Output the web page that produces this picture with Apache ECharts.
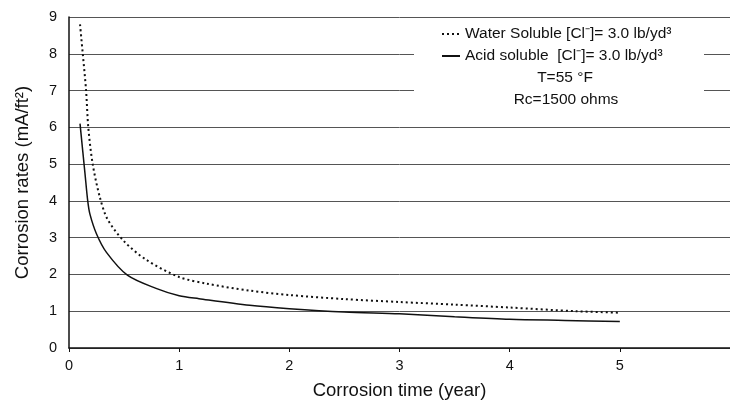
<!DOCTYPE html>
<html>
<head>
<meta charset="utf-8">
<script src="https://cdn.jsdelivr.net/npm/echarts@6/dist/echarts.min.js"></script>
<style>
  html, body { margin: 0; padding: 0; background: #fff; }
  #chart { width: 730px; height: 410px; }
</style>
</head>
<body>
<div id="chart"></div>
<script>
// values: [time (year), corrosion rate (mA/ft2)]
const waterSoluble = [
    [0.1, 8.8], [0.125, 8.0], [0.155, 7.0], [0.175, 6.0], [0.215, 5.0],
    [0.28, 4.1], [0.35, 3.5], [0.5, 2.9], [0.7, 2.4], [1.0, 1.93],
    [1.25, 1.75], [1.64, 1.56], [2.0, 1.44], [2.5, 1.33], [3.0, 1.25],
    [3.5, 1.18], [4.0, 1.1], [4.6, 1.0], [5.0, 0.96]
];
const acidSoluble = [
    [0.1, 6.1], [0.145, 4.75], [0.17, 4.0], [0.19, 3.64], [0.25, 3.1],
    [0.34, 2.6], [0.53, 1.98], [0.79, 1.62], [1.0, 1.42], [1.18, 1.34],
    [1.64, 1.16], [2.0, 1.07], [2.5, 0.98], [3.0, 0.93], [3.5, 0.85],
    [4.0, 0.78], [4.5, 0.75], [5.0, 0.72]
];
const seriesNames = [
    'Water Soluble [Cl\u207B]= 3.0 lb/yd\u00B3',
    'Acid soluble  [Cl\u207B]= 3.0 lb/yd\u00B3'
];
const noteLines = ['T=55 \u00B0F', 'Rc=1500 ohms'];

const font = '"Liberation Sans", Arial, sans-serif';

const chart = echarts.init(document.getElementById('chart'));
chart.setOption({
    animation: false,
    backgroundColor: '#fff',
    textStyle: { fontFamily: font, color: '#111' },
    grid: { left: 69, right: -3, top: 17, bottom: 62 },
    xAxis: {
        type: 'value', min: 0, max: 6, interval: 1,
        name: 'Corrosion time (year)', nameLocation: 'middle', nameGap: 33,
        nameTextStyle: { fontSize: 18.5, color: '#111', fontFamily: font },
        axisLine: { lineStyle: { color: '#111', width: 1.5 } },
        axisTick: { show: true, length: 4, lineStyle: { color: '#111' } },
        axisLabel: { fontSize: 14.5, color: '#111', margin: 10, showMaxLabel: false },
        splitLine: { show: false }
    },
    yAxis: {
        type: 'value', min: 0, max: 9, interval: 1,
        name: 'Corrosion rates (mA/ft\u00B2)', nameLocation: 'middle', nameGap: 37,
        nameTextStyle: { fontSize: 18.5, color: '#111', fontFamily: font },
        axisLine: { show: true, lineStyle: { color: '#111', width: 1.5 } },
        axisTick: { show: false },
        axisLabel: { fontSize: 14.5, color: '#111', margin: 12 },
        splitLine: { show: true, lineStyle: { color: '#555', width: 1 } }
    },
    legend: {
        orient: 'vertical',
        left: 436, top: 21,
        itemWidth: 18, itemHeight: 12, itemGap: 6,
        itemStyle: { opacity: 0 },
        textStyle: { fontSize: 15.5, color: '#111', fontFamily: font },
        data: seriesNames
    },
    graphic: [
        { type: 'rect', z: 1, shape: { x: 414, y: 20, width: 290, height: 89 }, style: { fill: '#fff' } },
        { type: 'text', z: 5, x: 565, y: 78, style: { text: noteLines[0], font: '15.5px ' + font, fill: '#111', align: 'center', verticalAlign: 'middle' } },
        { type: 'text', z: 5, x: 566, y: 100, style: { text: noteLines[1], font: '15.5px ' + font, fill: '#111', align: 'center', verticalAlign: 'middle' } }
    ],
    series: [
        {
            name: seriesNames[0], type: 'line', data: waterSoluble,
            symbol: 'none', smooth: 0.3, color: '#111',
            lineStyle: { color: '#111', width: 2, type: [2, 3] }
        },
        {
            name: seriesNames[1], type: 'line', data: acidSoluble,
            symbol: 'none', smooth: 0.3, color: '#111',
            lineStyle: { color: '#111', width: 1.5, type: 'solid' }
        }
    ]
});
</script>
</body>
</html>
